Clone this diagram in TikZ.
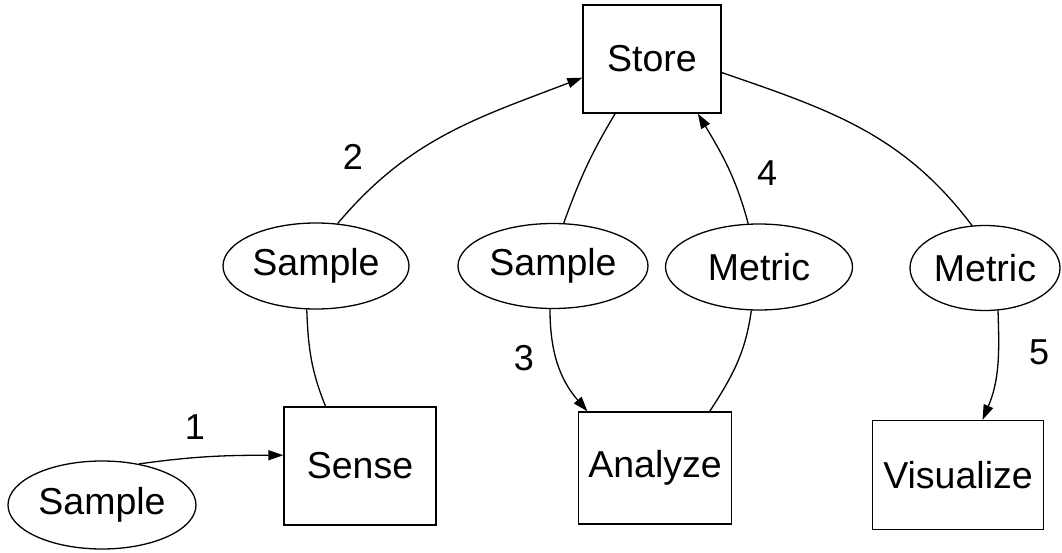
\documentclass[tikz,border=0pt]{standalone}
\usepackage{fontspec}
\setmainfont{Liberation Sans}
\usetikzlibrary{shapes.geometric,arrows.meta}
\tikzset{
  box/.style={draw, rectangle, inner sep=0pt, line width=1.3pt, font=\fontsize{37.5}{45}\selectfont},
  oval/.style={draw, ellipse, inner sep=0pt, line width=1.3pt, font=\fontsize{37.5}{45}\selectfont},
  lbl/.style={inner sep=0pt, font=\fontsize{36}{43}\selectfont},
  edge/.style={line width=1.3pt},
  arr/.style={line width=1.3pt, -{Triangle[length=15pt,width=10pt]}}
}
\begin{document}
\begin{tikzpicture}[x=1pt,y=1pt]
\path[fill=white] (0,0) rectangle (1062,552);
\useasboundingbox (0,0) rectangle (1062,552);
% nodes
\node[oval, minimum width=188pt, minimum height=88pt] (s0) at (102,47) {Sample};
\node[box, minimum width=152pt, minimum height=118pt] (sense) at (360,86) {Sense};
\node[oval, minimum width=186pt, minimum height=86pt] (s2) at (316,286) {Sample};
\node[box, minimum width=138pt, minimum height=108pt] (store) at (652,493) {Store};
\node[oval, minimum width=190pt, minimum height=85pt] (s3) at (553,286) {Sample};
\node[oval, minimum width=187pt, minimum height=86pt] (m4) at (759,285) {Metric};
\node[box, minimum width=153pt, minimum height=112pt] (analyze) at (655,84) {Analyze};
\node[oval, minimum width=150pt, minimum height=85pt] (m5) at (985,284) {Metric};
\node[box, minimum width=171pt, minimum height=109pt] (vis) at (958,77) {Visualize};
% labels
\node[lbl] (l1) at (195,125) {1};
\node[lbl] (l2) at (353,395) {2};
\node[lbl] (l3) at (524,194) {3};
\node[lbl] (l4) at (767,379) {4};
\node[lbl] (l5) at (1039,200) {5};
% edges
\draw[arr] (s0.48) to[out=8, in=180] (sense.172);
\draw[edge] (sense.120) to[out=112, in=-88] (s2.258);
\draw[arr] (s2.63) to[out=50, in=201] (store.195);
\draw[edge] (store.236) to[out=-121, in=70] (s3.76);
\draw[arr] (s3.266) to[out=-90, in=131] (analyze.140);
\draw[edge] (analyze.46) to[out=57, in=-98] (m4.260);
\draw[arr] (m4.104) to[out=105, in=-59] (store.310);
\draw[edge] (store.349) to[out=-19, in=127] (m5.107);
\draw[arr] (m5.287) to[out=-88, in=67] (vis.66);
\end{tikzpicture}
\end{document}
